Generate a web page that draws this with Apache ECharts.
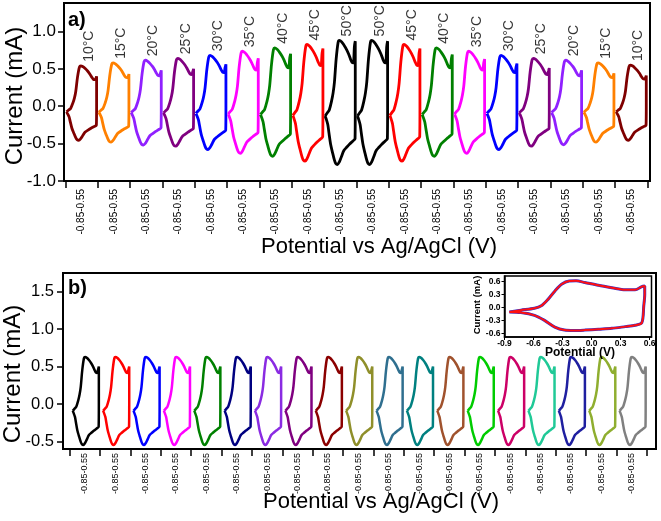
<!DOCTYPE html>
<html><head><meta charset="utf-8">
<script src="https://cdn.jsdelivr.net/npm/echarts@6/dist/echarts.min.js"></script>
<style>html,body{margin:0;padding:0;background:#fff}#c{width:661px;height:521px}</style>
</head><body><div id="c"></div>
<script>
const FONT = 'Liberation Sans, Arial, sans-serif';

// CV shape (potential in V, current in mA)
const cvPotential = [-0.85,-0.75,-0.66,-0.55,-0.48,-0.42,-0.34,-0.25,-0.19,-0.08,0.02,0.14,0.24,0.33,0.40,0.46,0.51,0.55,0.55,0.55,0.54,0.45,0.29,0.15,0.02,-0.10,-0.19,-0.28,-0.36,-0.42,-0.52,-0.60,-0.68,-0.73,-0.80,-0.85];
const cvCurrent   = [-0.09,-0.06,-0.035,0.053,0.13,0.23,0.45,0.61,0.63,0.615,0.587,0.545,0.50,0.45,0.42,0.415,0.46,0.50,0.30,0.0,-0.30,-0.32,-0.35,-0.38,-0.41,-0.47,-0.515,-0.54,-0.53,-0.50,-0.42,-0.35,-0.24,-0.17,-0.12,-0.09];
const cvPeakAnodic = 0.63;
const cvPeakCathodic = -0.54;
const cvVertex = 0.50;          // current at the +0.55 V vertex
const cvTailIndex = [16, 17, 18]; // points of the rise to the vertex

// Inset CV (potential in V, current in mA)
const insetPotential = [-0.85,-0.73,-0.59,-0.52,-0.45,-0.38,-0.31,-0.23,-0.16,-0.07,0.07,0.21,0.35,0.45,0.52,0.55,0.55,0.54,0.52,0.45,0.35,0.21,0.07,-0.07,-0.18,-0.28,-0.38,-0.49,-0.59,-0.73,-0.85];
const insetCurrent   = [-0.10,-0.06,-0.015,0.04,0.19,0.38,0.54,0.615,0.62,0.58,0.515,0.46,0.41,0.41,0.485,0.50,0.31,0.04,-0.35,-0.41,-0.44,-0.48,-0.50,-0.52,-0.53,-0.52,-0.45,-0.29,-0.18,-0.115,-0.10];

// Panel a
const aTemps = ['10°C','15°C','20°C','25°C','30°C','35°C','40°C','45°C','50°C','50°C','45°C','40°C','35°C','30°C','25°C','20°C','15°C','10°C'];
const aPeakAnodic = [0.54,0.58,0.615,0.64,0.68,0.735,0.78,0.825,0.88,0.88,0.825,0.78,0.735,0.68,0.64,0.615,0.58,0.55];
const aPeakCathodic = [-0.455,-0.48,-0.52,-0.535,-0.58,-0.63,-0.67,-0.735,-0.78,-0.78,-0.735,-0.67,-0.63,-0.58,-0.535,-0.515,-0.48,-0.455];
const aVertex = [0.40,0.43,0.48,0.50,0.56,0.64,0.70,0.77,0.87,0.87,0.77,0.69,0.63,0.57,0.51,0.48,0.44,0.41];
const aColors = ['#7f0000','#ff8000','#9020ff','#800080','#0000ff','#ff00ff','#008000','#ff0000','#000000','#000000','#ff0000','#008000','#ff00ff','#0000ff','#800080','#9020ff','#ff8000','#7f0000'];
const aYTicks = [-1.0,-0.5,0.0,0.5,1.0];

// Panel b
const bPeakAnodic = [0.63,0.63,0.63,0.63,0.63,0.63,0.63,0.63,0.63,0.63,0.63,0.63,0.63,0.63,0.63,0.63,0.63,0.63,0.63];
const bPeakCathodic = [-0.545,-0.545,-0.545,-0.545,-0.545,-0.545,-0.545,-0.545,-0.545,-0.545,-0.545,-0.545,-0.545,-0.545,-0.545,-0.545,-0.545,-0.545,-0.545];
const bVertex = [0.50,0.50,0.50,0.50,0.50,0.50,0.50,0.50,0.50,0.50,0.50,0.50,0.50,0.50,0.50,0.50,0.50,0.50,0.50];
const bColors = ['#000000','#ff0000','#0000ff','#ff00ff','#008000','#000080','#8a2be2','#800080','#8b0000','#8f8f2a','#2f6f8f','#008080','#a0522d','#00cc00','#cc0066','#20c997','#1f1fa0','#8fae2f','#808080'];
const bYTicks = [-0.5,0.0,0.5,1.0,1.5];

const xTickLabel = '-0.85-0.55';
const insetXTicks = [-0.9,-0.6,-0.3,0.0,0.3,0.6];
const insetYTicks = [-0.6,-0.3,0.0,0.3,0.6];

function cvPoints(slot, pa, pc, vtx, offset, span) {
  return cvPotential.map((E, k) => {
    const I = cvCurrent[k];
    let cur;
    if (cvTailIndex.indexOf(k) >= 0) cur = I * vtx / cvVertex;
    else cur = I >= 0 ? I * pa / cvPeakAnodic : I * pc / cvPeakCathodic;
    return [slot + offset + (E + 0.85) / 1.4 * span, cur];
  });
}
const range = n => Array.from({length: n}, (_, i) => i);

const series = [];
aColors.forEach((c, i) => series.push({
  type: 'line', xAxisIndex: 0, yAxisIndex: 0, data: cvPoints(i, aPeakAnodic[i], aPeakCathodic[i], aVertex[i], 0.035, 0.93),
  showSymbol: false, smooth: 0.3, lineStyle: {color: c, width: 2.8}, silent: true
}));
series.push({
  type: 'scatter', xAxisIndex: 0, yAxisIndex: 0, symbolSize: 0, silent: true,
  data: aTemps.map((t, i) => ({name: t, value: [i + 0.72, aPeakAnodic[i]]})),
  label: {show: true, formatter: '{b}', position: 'top', distance: 4, rotate: 90, align: 'left', verticalAlign: 'middle',
    fontSize: 14, color: '#000', fontFamily: FONT}
});
bColors.forEach((c, i) => series.push({
  type: 'line', xAxisIndex: 1, yAxisIndex: 1, data: cvPoints(i, bPeakAnodic[i], bPeakCathodic[i], bVertex[i], 0.1, 0.86),
  showSymbol: false, smooth: 0.3, lineStyle: {color: c, width: 2.5}, silent: true
}));
series.push({
  type: 'line', xAxisIndex: 2, yAxisIndex: 2, z: 10, data: insetPotential.map((E, k) => [E, insetCurrent[k]]),
  showSymbol: false, smooth: 0.3, lineStyle: {color: '#3030d0', width: 3}, silent: true
});
series.push({
  type: 'line', xAxisIndex: 2, yAxisIndex: 2, z: 11, data: insetPotential.map((E, k) => [E, insetCurrent[k]]),
  showSymbol: false, smooth: 0.3, lineStyle: {color: '#ff1010', width: 2}, silent: true
});

const axisBase = {
  axisLine: {show: true, onZero: false, lineStyle: {color: '#000', width: 2}},
  splitLine: {show: false}
};

const option = {
  animation: false,
  backgroundColor: '#fff',
  grid: [
    {left: 64, top: 3, width: 586, height: 178, show: true, borderColor: '#000', borderWidth: 2},
    {left: 63, top: 273, width: 593, height: 176, show: true, borderColor: '#000', borderWidth: 2},
    {left: 504.5, top: 276, width: 147, height: 61, show: true, borderColor: '#000', borderWidth: 1.5, backgroundColor: '#fff'}
  ],
  xAxis: [
    Object.assign({}, axisBase, {gridIndex: 0, type: 'value', min: -0.043, max: 18.08,
      axisTick: {show: true, length: 7, customValues: range(19), lineStyle: {color: '#000', width: 1.5}},
      axisLabel: {customValues: range(18).map(i => i + 0.5), formatter: () => xTickLabel, rotate: 90, fontSize: 10, margin: 8, color: '#000', fontFamily: FONT}}),
    Object.assign({}, axisBase, {gridIndex: 1, type: 'value', min: -0.22, max: 19.3,
      axisTick: {show: true, length: 7, customValues: range(20), lineStyle: {color: '#000', width: 1.5}},
      axisLabel: {customValues: range(19).map(i => i + 0.5), formatter: () => xTickLabel, rotate: 90, fontSize: 9, margin: 4, color: '#000', fontFamily: FONT}}),
    Object.assign({}, axisBase, {gridIndex: 2, type: 'value', min: -0.9, max: 0.62,
      axisLine: {show: true, onZero: false, lineStyle: {color: '#000', width: 1.5}},
      axisTick: {show: true, length: 3, customValues: insetXTicks, lineStyle: {color: '#000', width: 1}},
      axisLabel: {customValues: insetXTicks, formatter: v => v.toFixed(1), fontSize: 8.5, fontWeight: 'bold', margin: 2, color: '#000', fontFamily: FONT}})
  ],
  yAxis: [
    Object.assign({}, axisBase, {gridIndex: 0, type: 'value', min: -1.0, max: 1.38,
      axisTick: {show: true, length: 6, customValues: aYTicks, lineStyle: {color: '#000', width: 1.5}},
      axisLabel: {customValues: aYTicks, formatter: v => v.toFixed(1), fontSize: 17, margin: 8, color: '#000', fontFamily: FONT}}),
    Object.assign({}, axisBase, {gridIndex: 1, type: 'value', min: -0.6, max: 1.75,
      axisTick: {show: true, length: 6, customValues: bYTicks, lineStyle: {color: '#000', width: 1.5}},
      axisLabel: {customValues: bYTicks, formatter: v => v.toFixed(1), fontSize: 16.5, margin: 9, color: '#000', fontFamily: FONT}}),
    Object.assign({}, axisBase, {gridIndex: 2, type: 'value', min: -0.68, max: 0.73,
      axisLine: {show: true, onZero: false, lineStyle: {color: '#000', width: 1.5}},
      axisTick: {show: true, length: 3, customValues: insetYTicks, lineStyle: {color: '#000', width: 1}},
      axisLabel: {customValues: insetYTicks, formatter: v => v.toFixed(1), fontSize: 8.5, fontWeight: 'bold', margin: 4, color: '#000', fontFamily: FONT}})
  ],
  series: series,
  graphic: [
    {type: 'text', x: 68, y: 20.5, style: {text: 'a)', font: 'bold 20px ' + FONT, fill: '#000', textVerticalAlign: 'middle'}},
    {type: 'text', x: 68, y: 288.5, style: {text: 'b)', font: 'bold 20px ' + FONT, fill: '#000', textVerticalAlign: 'middle'}},
    {type: 'text', x: 15, y: 96, rotation: Math.PI / 2, style: {text: 'Current (mA)', font: '24px ' + FONT, fill: '#000', textAlign: 'center', textVerticalAlign: 'middle'}},
    {type: 'text', x: 13, y: 374, rotation: Math.PI / 2, style: {text: 'Current (mA)', font: '24px ' + FONT, fill: '#000', textAlign: 'center', textVerticalAlign: 'middle'}},
    {type: 'text', x: 379, y: 247, style: {text: 'Potential vs Ag/AgCl (V)', font: '22px ' + FONT, fill: '#000', textAlign: 'center', textVerticalAlign: 'middle'}},
    {type: 'text', x: 381, y: 502, style: {text: 'Potential vs Ag/AgCl (V)', font: '22px ' + FONT, fill: '#000', textAlign: 'center', textVerticalAlign: 'middle'}},
    {type: 'text', x: 477, y: 305, rotation: Math.PI / 2, z: 10, style: {text: 'Current (mA)', font: 'bold 9.5px ' + FONT, fill: '#000', textAlign: 'center', textVerticalAlign: 'middle'}},
    {type: 'text', x: 580, y: 353, z: 10, style: {text: 'Potential (V)', font: 'bold 12px ' + FONT, fill: '#000', textAlign: 'center', textVerticalAlign: 'middle'}}
  ]
};
const chart = echarts.init(document.getElementById('c'), null, {renderer: 'canvas'});
chart.setOption(option);
</script>
</body></html>
